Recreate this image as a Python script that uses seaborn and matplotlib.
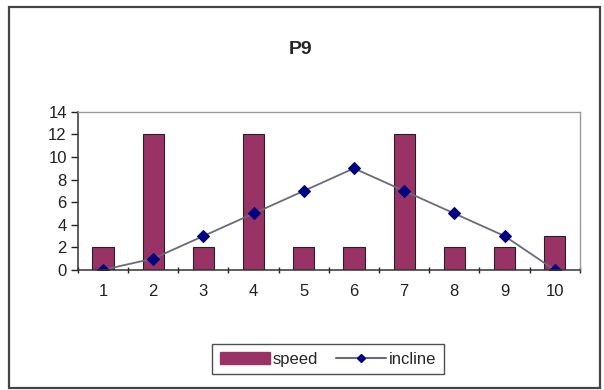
import numpy as np
import pandas as pd
import matplotlib.pyplot as plt
import matplotlib.patches as mpatches
import matplotlib.lines as mlines
import seaborn as sns

categories = ['1', '2', '3', '4', '5', '6', '7', '8', '9', '10']
speed = [2, 12, 2, 12, 2, 2, 12, 2, 2, 3]
incline = [0, 1, 3, 5, 7, 9, 7, 5, 3, 0]

bar_color = '#993366'
marker_color = '#000080'
line_color = '#6a6a7a'

sns.set_theme(style='white')
plt.rcParams['font.family'] = ['Liberation Sans', 'DejaVu Sans']

df = pd.DataFrame({'x': categories, 'speed': speed, 'incline': incline})

fig = plt.figure(figsize=(6.04, 3.9), dpi=100)
ax = fig.add_axes([0.129, 0.308, 0.831, 0.405])

sns.barplot(data=df, x='x', y='speed', color=bar_color, saturation=1,
            width=0.42, edgecolor='#222222', linewidth=0.8, ax=ax)
sns.lineplot(x=np.arange(len(categories)), y=incline, color=line_color,
             linewidth=1.3, marker='D', markersize=6,
             markerfacecolor=marker_color, markeredgecolor=marker_color, ax=ax)

ax.set_xlim(-0.5, len(categories) - 0.5)
ax.set_ylim(0, 14)
ax.set_yticks(range(0, 15, 2))
ax.set_xlabel('')
ax.set_ylabel('')

# tick labels at centres, tick marks between categories
ax.set_xticks(range(len(categories)))
ax.set_xticklabels(categories)
ax.set_xticks(np.arange(-0.5, len(categories), 1), minor=True)
ax.tick_params(axis='x', which='major', length=0, pad=10, labelsize=12, colors='#222222')
ax.tick_params(axis='x', which='minor', length=5, width=1, direction='inout', color='#222222', bottom=True)
ax.tick_params(axis='y', length=5, width=1, direction='out', color='#222222', left=True, labelsize=12, labelcolor='#222222', pad=3)

for side in ['left', 'bottom']:
    ax.spines[side].set_color('#333333')
    ax.spines[side].set_linewidth(1.1)
for side in ['top', 'right']:
    ax.spines[side].set_color('#999999')
    ax.spines[side].set_linewidth(1.0)

fig.text(0.497, 0.872, 'P9', ha='center', va='center', fontsize=14, fontweight='bold')

handles = [mpatches.Patch(facecolor=bar_color, edgecolor=bar_color, label='speed'),
           mlines.Line2D([], [], color=line_color, marker='D', markersize=4.5,
                         markerfacecolor=marker_color, markeredgecolor=marker_color,
                         label='incline')]
leg = fig.legend(handles=handles, loc='center', bbox_to_anchor=(0.543, 0.079), ncol=2,
                 frameon=True, fancybox=False, fontsize=12, handlelength=3.0,
                 handletextpad=0.15, columnspacing=1.1, borderpad=0.45)
leg.get_frame().set_edgecolor('#222222')
leg.get_frame().set_linewidth(1.0)

fig.add_artist(mpatches.Rectangle((9 / 604, 2 / 390), 591 / 604, 381 / 390,
                                  transform=fig.transFigure, fill=False,
                                  edgecolor='#444444', linewidth=1.6))

fig.savefig('out.png', dpi=100)
